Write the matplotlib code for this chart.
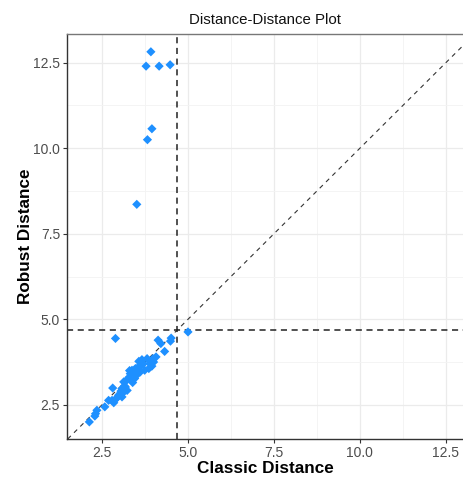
import matplotlib
matplotlib.use("Agg")
import matplotlib.pyplot as plt
from matplotlib.ticker import MultipleLocator

# Mahalanobis distances: classical vs. robust (MCD) estimates
classic_dist = [
    3.92, 3.78, 4.16, 4.48, 3.95, 3.82, 3.51,
    2.89, 5.00, 4.51, 4.49, 4.13, 4.21, 4.32, 4.07, 3.98, 3.81, 3.66, 3.57,
    3.95, 3.86, 3.74, 3.61, 3.47, 3.37, 3.32, 3.52, 3.45, 3.39, 3.30,
    2.81, 3.13, 3.18, 3.08, 3.23, 3.13, 3.03, 2.98, 3.08, 2.89, 2.79, 2.84,
    2.69, 2.58, 2.35, 2.31, 2.29, 2.13,
    3.70, 3.90, 3.55, 3.42, 3.20, 3.28, 3.60, 4.00, 3.35, 3.15, 2.95, 3.05,
]
robust_dist = [
    12.82, 12.40, 12.40, 12.44, 10.57, 10.25, 8.36,
    4.44, 4.63, 4.45, 4.36, 4.39, 4.29, 4.06, 3.90, 3.85, 3.85, 3.82, 3.77,
    3.63, 3.56, 3.51, 3.46, 3.56, 3.51, 3.41, 3.38, 3.27, 3.15, 3.50,
    2.99, 3.17, 3.02, 2.97, 2.92, 2.87, 2.83, 2.78, 2.73, 2.66, 2.63, 2.56,
    2.63, 2.44, 2.34, 2.24, 2.17, 2.00,
    3.70, 3.70, 3.60, 3.42, 3.20, 3.30, 3.62, 3.75, 3.22, 3.05, 2.72, 2.90,
]
cutoff = 4.68

x_ticks = [2.5, 5.0, 7.5, 10.0, 12.5]
y_ticks = [2.5, 5.0, 7.5, 10.0, 12.5]

plt.rcParams["font.family"] = ["Liberation Sans", "DejaVu Sans"]

fig = plt.figure(figsize=(4.63, 4.82), dpi=100)
ax = fig.add_axes([67 / 463, 43 / 482, 1 - 67 / 463, 405 / 482])

ax.set_xlim(1.48, 13.0)
ax.set_ylim(1.5, 13.34)

# grid
ax.xaxis.set_minor_locator(MultipleLocator(1.25))
ax.yaxis.set_minor_locator(MultipleLocator(1.25))
ax.grid(which="major", color="#EBEBEB", linewidth=0.9)
ax.grid(which="minor", color="#F3F3F3", linewidth=0.6)
ax.set_axisbelow(True)

# reference lines
ax.axline((0, 0), slope=1, color="#333333", linestyle=(0, (4, 4)), linewidth=0.8)
ax.axvline(cutoff, color="#222222", linestyle=(0, (4, 3)), linewidth=1.1)
ax.axhline(cutoff, color="#222222", linestyle=(0, (4, 3)), linewidth=1.1)

ax.scatter(classic_dist, robust_dist, marker="D", s=22, color="#1E90FF",
           edgecolors="none", zorder=3)

ax.set_xticks(x_ticks)
ax.set_yticks(y_ticks)
ax.set_xticklabels([f"{v:.1f}" for v in x_ticks])
ax.set_yticklabels([f"{v:.1f}" for v in y_ticks])
ax.tick_params(which="major", direction="out", length=3, width=0.8,
               color="#333333", labelcolor="#4D4D4D", labelsize=10, pad=2)
ax.tick_params(which="minor", length=0)

for side in ("left", "bottom"):
    ax.spines[side].set_color("#333333")
    ax.spines[side].set_linewidth(1.0)
ax.spines["top"].set_color("#777777")
ax.spines["top"].set_linewidth(1.0)
ax.spines["right"].set_visible(False)

ax.set_xlabel("Classic Distance", fontsize=12.3, fontweight="bold", labelpad=1)
ax.set_ylabel("Robust Distance", fontsize=12.3, fontweight="bold", labelpad=0)
ax.set_title("Distance-Distance Plot", fontsize=10.8, pad=7, color="#111111")

fig.savefig("out.png", dpi=100, facecolor="white")
